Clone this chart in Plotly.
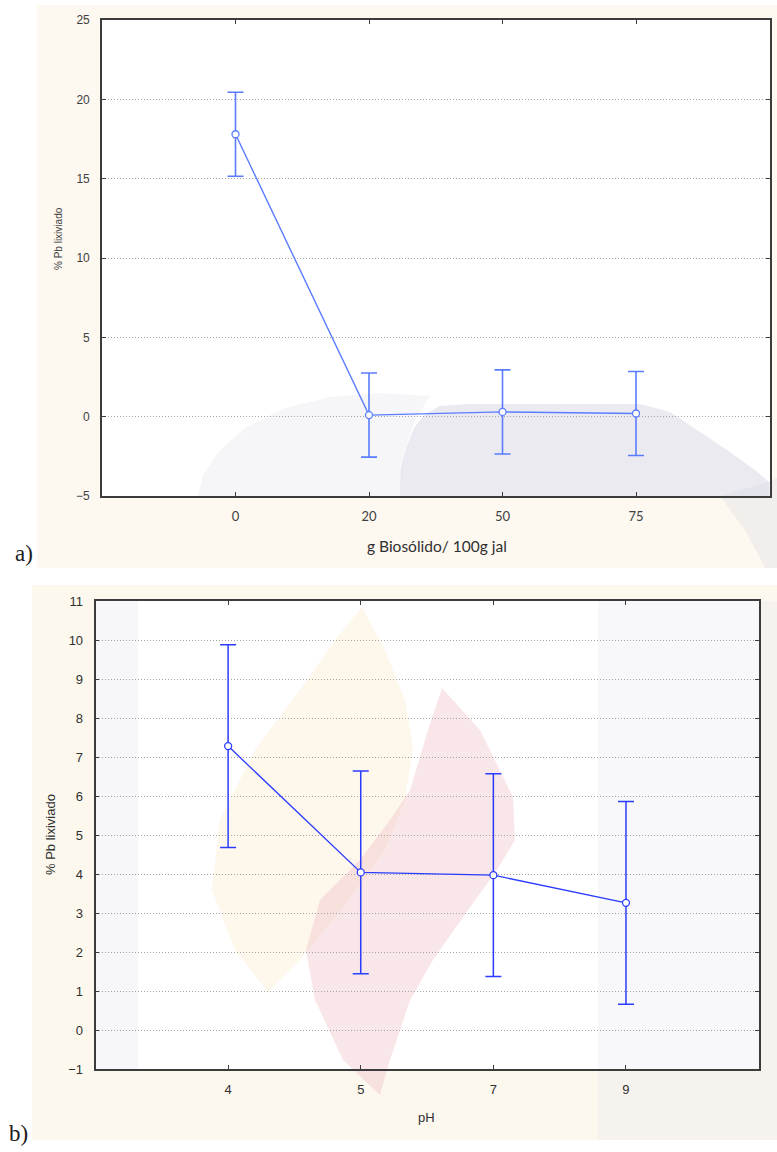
import plotly.graph_objects as go

# ---- data -------------------------------------------------------------
dose_labels = ["0", "20", "50", "75"]
pb_dose = [17.8, 0.1, 0.3, 0.2]
err_dose = [2.65, 2.65, 2.65, 2.65]

ph_labels = ["4", "5", "7", "9"]
pb_ph = [7.28, 4.04, 3.97, 3.26]
err_ph = [2.6, 2.6, 2.6, 2.6]

W, H = 777, 1152


def px(x):
    return x / W


def py(y):
    return 1 - y / H


def path(points):
    """Closed SVG path in paper coordinates from pixel points."""
    d = "M " + " L ".join(f"{px(x):.4f},{py(y):.4f}" for x, y in points) + " Z"
    return d


fig = go.Figure()

top_blue = "#5a7cff"
bot_blue = "#2a3cff"

fig.add_trace(go.Scatter(
    x=dose_labels, y=pb_dose, xaxis="x", yaxis="y",
    mode="lines+markers",
    line=dict(color=top_blue, width=1.4),
    marker=dict(symbol="circle", size=7, color="white",
                line=dict(color=top_blue, width=1.3)),
    error_y=dict(type="data", array=err_dose, visible=True,
                 color=top_blue, thickness=1.6, width=8),
    showlegend=False,
))

fig.add_trace(go.Scatter(
    x=ph_labels, y=pb_ph, xaxis="x2", yaxis="y2",
    mode="lines+markers",
    line=dict(color=bot_blue, width=1.3),
    marker=dict(symbol="circle", size=7, color="white",
                line=dict(color=bot_blue, width=1.3)),
    error_y=dict(type="data", array=err_ph, visible=True,
                 color=bot_blue, thickness=1.5, width=8),
    showlegend=False,
))

axis_line = "#3c3c3c"
grid = "#a4a4a4"

common_x = dict(
    type="category", range=[-1, 4], showgrid=False, zeroline=False,
    showline=True, linecolor=axis_line, linewidth=1.6, mirror="ticks",
    ticks="inside", ticklen=4, tickcolor=axis_line,
    ticklabelstandoff=8, automargin=False,
)
common_y = dict(
    zeroline=False, showgrid=True, gridcolor=grid, griddash="1px,2px", gridwidth=1,
    showline=True, linecolor=axis_line, linewidth=1.6, mirror="ticks",
    ticks="inside", ticklen=4, tickcolor=axis_line,
    ticklabelstandoff=8, automargin=False,
)

fig.update_layout(
    width=W, height=H,
    margin=dict(l=0, r=0, t=0, b=0, autoexpand=False),
    paper_bgcolor="white",
    plot_bgcolor="rgba(0,0,0,0)",
    xaxis=dict(common_x, domain=[px(102), px(769.5)], anchor="y",
               tickfont=dict(family="Lato, Open Sans, sans-serif", size=13, color="#404040")),
    yaxis=dict(common_y, domain=[py(496), py(20)], anchor="x",
               range=[-5, 25], dtick=5,
               tickfont=dict(family="Liberation Sans, Arial", size=12, color="#404040")),
    xaxis2=dict(common_x, domain=[px(95.5), px(758.6)], anchor="y2",
                tickfont=dict(family="Liberation Sans, Arial", size=13, color="#303030")),
    yaxis2=dict(common_y, domain=[py(1069), py(601)], anchor="x2",
                range=[-1, 11], dtick=1,
                tickfont=dict(family="Liberation Sans, Arial", size=13, color="#303030")),
)

# ---- panel backgrounds and faint logo watermark ------------------------
shapes = []
# cream panels
shapes.append(dict(type="rect", xref="paper", yref="paper", layer="below",
                   x0=px(37), x1=px(777), y0=py(568), y1=py(5),
                   fillcolor="#fdf8f0", line=dict(width=0)))
shapes.append(dict(type="rect", xref="paper", yref="paper", layer="below",
                   x0=px(32), x1=px(777), y0=py(1140), y1=py(585),
                   fillcolor="#fcf8ee", line=dict(width=0)))
# white plot areas
shapes.append(dict(type="rect", xref="paper", yref="paper", layer="below",
                   x0=px(102), x1=px(769.5), y0=py(496), y1=py(20),
                   fillcolor="white", line=dict(width=0)))
shapes.append(dict(type="rect", xref="paper", yref="paper", layer="below",
                   x0=px(95.5), x1=px(758.6), y0=py(1069), y1=py(601),
                   fillcolor="white", line=dict(width=0)))

# soft grey arches in the upper panel
shapes.append(dict(type="path", xref="paper", yref="paper", layer="below",
                   path=path([(198, 496), (203, 475), (218, 452), (245, 428),
                              (285, 408), (330, 397), (380, 393), (430, 396),
                              (415, 420), (405, 450), (400, 496)]),
                   fillcolor="rgba(225,225,235,0.30)", line=dict(width=0)))
shapes.append(dict(type="path", xref="paper", yref="paper", layer="below",
                   path=path([(400, 496), (401, 470), (406, 448), (414, 428),
                              (425, 414), (440, 406), (470, 404), (640, 404),
                              (670, 412), (700, 432), (730, 452), (755, 470),
                              (769, 482), (769, 496)]),
                   fillcolor="rgba(208,208,222,0.45)", line=dict(width=0)))
shapes.append(dict(type="path", xref="paper", yref="paper", layer="below",
                   path=path([(720, 496), (769, 482), (777, 478), (777, 568),
                              (765, 568), (745, 530)]),
                   fillcolor="rgba(215,215,228,0.30)", line=dict(width=0)))

# faint grey side strips in the lower plot area
shapes.append(dict(type="rect", xref="paper", yref="paper", layer="below",
                   x0=px(96), x1=px(138), y0=py(1069), y1=py(601),
                   fillcolor="rgba(228,228,235,0.30)", line=dict(width=0)))
shapes.append(dict(type="rect", xref="paper", yref="paper", layer="below",
                   x0=px(598), x1=px(777), y0=py(1140), y1=py(601),
                   fillcolor="rgba(228,228,238,0.25)", line=dict(width=0)))

# orange flame
shapes.append(dict(type="path", xref="paper", yref="paper", layer="below",
                   path=path([(362, 607), (385, 650), (405, 700), (413, 747),
                              (405, 800), (385, 850), (345, 905), (300, 960),
                              (268, 992), (235, 950), (212, 890), (220, 820),
                              (255, 750), (300, 690), (335, 640)]),
                   fillcolor="rgba(252,228,192,0.30)", line=dict(width=0)))
# red flame
shapes.append(dict(type="path", xref="paper", yref="paper", layer="below",
                   path=path([(442, 688), (480, 730), (513, 797), (515, 840),
                              (497, 870), (468, 910), (433, 960), (410, 1000),
                              (390, 1060), (380, 1095), (343, 1060), (315, 1000),
                              (306, 950), (320, 900), (360, 860), (390, 820),
                              (410, 790), (428, 730)]),
                   fillcolor="rgba(238,185,195,0.36)", line=dict(width=0)))

fig.update_layout(shapes=shapes)

# ---- axis titles and panel labels ---------------------------------------
ann = [
    dict(text="% Pb lixiviado", x=px(58), y=py(239), textangle=-90,
         font=dict(family="Liberation Sans, Arial", size=10, color="#404040")),
    dict(text="g Biosólido/ 100g jal", x=px(437), y=py(546),
         font=dict(family="Lato, Open Sans, sans-serif", size=15.5, color="#303030")),
    dict(text="a)", x=px(24), y=py(553),
         font=dict(family="Liberation Serif, DejaVu Serif, serif", size=23, color="#202020")),
    dict(text="% Pb lixiviado", x=px(50), y=py(835), textangle=-90,
         font=dict(family="Liberation Sans, Arial", size=13, color="#303030")),
    dict(text="pH", x=px(426), y=py(1117),
         font=dict(family="Liberation Sans, Arial", size=13, color="#303030")),
    dict(text="b)", x=px(18), y=py(1133),
         font=dict(family="Liberation Serif, DejaVu Serif, serif", size=23, color="#202020")),
]
for a in ann:
    a.update(xref="paper", yref="paper", showarrow=False,
             xanchor="center", yanchor="middle")
fig.update_layout(annotations=ann)

fig.write_html("out.html")
